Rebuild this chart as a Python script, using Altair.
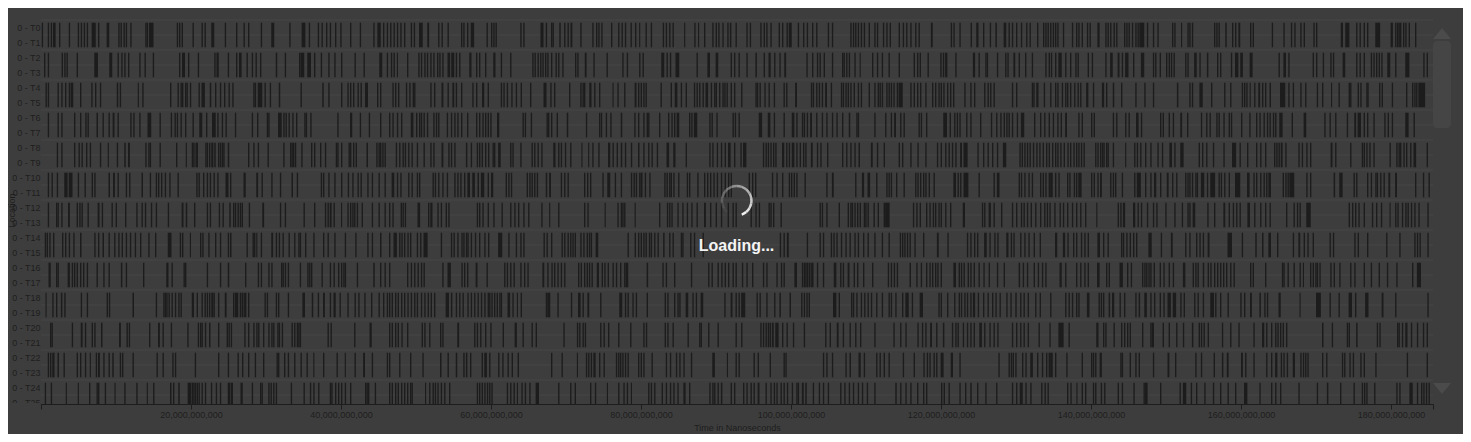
import json
import math
import altair as alt
import pandas as pd

# ---------------- data ----------------
ROW_LABELS = ["0 - T0", "0 - T1", "0 - T2", "0 - T3", "0 - T4", "0 - T5", "0 - T6",
              "0 - T7", "0 - T8", "0 - T9", "0 - T10", "0 - T11", "0 - T12", "0 - T13",
              "0 - T14", "0 - T15", "0 - T16", "0 - T17", "0 - T18", "0 - T19",
              "0 - T20", "0 - T21", "0 - T22", "0 - T23", "0 - T24", "0 - T25"]
X_TICKS = [0, 20e9, 40e9, 60e9, 80e9, 100e9, 120e9, 140e9, 160e9, 180e9]
X_END = 185.6e9          # time (ns) at the right edge of the visible window
ROWS_VISIBLE = 25.6      # rows visible in the scrolled viewport

# event times in units of 1e9 ns: a number = short event, [start, end] = long event
T00_01 = [0.1, 0.9, 1.3, [1.6, 1.95], 2.4, 3.7, 4.9, 5.3, 5.7, 6.1, [6.75, 7.3], 7.6, [8.75, 9.1], 10.3, 10.6, 11.0, 11.3, 11.9, 13.9, 14.1, [14.4, 15.0], 18.1, 18.4, 18.75, 20.2, 21.4, 21.8, [22.7, 23.1], 24.5, 26.0, 27.0, 27.6, 29.3, [30.7, 31.1], 33.1, [34.75, 35.25], 35.7, 36.9, 37.4, 38.0, 38.5, 39.2, 39.9, 41.2, 42.5, 44.3, [44.85, 45.3], 45.6, 46.1,
          46.55, 47.0, 47.45, 47.9, 48.4, 49.3, 49.7, [50.4, 50.9], [51.5, 51.75], 52.95, 53.4, 54.2, 56.0, 56.3, 56.8, [57.3, 57.75], 59.4, 60.0, 60.3, 60.6, 63.9, 64.3, [66.6, 67.0], 67.3, 68.0, 68.2, [69.1, 69.3], 69.75, 70.2, [70.6, 70.85], 71.9, 73.5, 74.0, 74.3, 74.7, 76.0, 76.95, 77.4, 77.85, 78.6, 79.2, [79.75, 79.9], 80.6, 81.3, 82.9, 83.3, 83.75, 84.2, [85.75, 85.9], 87.1, [87.6, 87.75], 88.4, 89.5, 89.95, 90.3, 90.85, 91.5, [91.85, 92.05], 92.6,
          94.05, 94.5, 95.9, 96.35, 96.7, 97.25, 98.35, 98.8, 99.4, [99.7, 100.1], 100.9, 101.6, 102.1, 102.8, 103.35, 104.9, 105.45, 107.9, 108.25, 108.55, 108.9, 109.3, 109.7, 110.35, 111.1, 111.45, 112.25, 112.7, 113.15, 114.35, 114.9, 115.35, 115.9, 116.55, 117.0, [118.65, 118.9], 121.3, 121.65, 122.45, 123.95, [124.7, 125.0], 125.6, 126.5, [127.25, 127.45], [128.35, 128.7], 129.0, 129.45, 130.0, 130.65, 131.35, 131.8, 132.8, 133.6, 133.9, 134.2, 134.55, 134.9, 135.2, 135.5, 136.25, 137.45, 138.0, 138.3, 138.75,
          139.45, 139.8, [140.85, 141.15], 141.9, 142.2, 142.55, 143.0, 143.35, 144.4, 144.7, 145.0, 145.45, 145.9, 146.2, [146.45, 147.1], 147.45, 148.25, 148.85, 150.8, 151.1, [152.0, 152.15], 152.85, 153.1, 153.45, 156.4, 156.7, 157.0, [157.9, 158.1], 158.8, 159.2, [159.65, 159.9], 161.2, 161.55, 164.1, 165.65, 166.65, 167.1, 167.9, 168.35, 169.65, 170.0, [173.3, 173.6], [173.9, 174.45], 175.35, 175.8, 176.35, 176.8, [177.9, 178.55], [179.95, 180.25], 180.55, 180.8, 181.0, 181.2, 181.6, 181.9, 182.35, 183.2]
T02_03 = [0.4, 0.9, 2.75, 3.1, 3.4, 4.75, [7.1, 7.6], [9.1, 9.5], 10.2, 10.7, 11.1, 11.6, 13.1, 13.8, 14.9, 18.4, [18.8, 19.2], 19.6, 20.9, 23.1, [23.4, 23.7], 24.9, 26.0, [26.4, 26.75], 27.4, 28.1, 28.6, 29.2, [31.3, 31.5], 32.5, 34.4, [34.6, 35.1], [35.5, 36.0], 36.4, 37.3, 38.3, 39.1, 40.0, 41.8, 43.0, [45.1, 45.5], 46.1,
          46.65, 47.0, [47.45, 47.6], 48.8, 50.3, 50.65, 51.1, 51.45, 51.9, 52.3, 52.8, 53.1, 53.5, [54.2, 54.55], [54.7, 55.1], 55.3, 55.75, [57.1, 57.4], 58.0, 58.4, 59.2, [60.3, 60.6], 61.3, 62.55, 65.5, 65.8, 66.2, 66.55, 66.85, 67.2, 67.5, 68.0, 68.6, 68.95, 69.5, 71.2, 71.5, [72.5, 72.75], 73.65, 75.4, 77.5, 78.1, 79.75, 80.2, [82.7, 83.1], 83.4, 83.85, [84.6, 85.1], 87.4, [88.85, 89.2], [89.95, 90.3], 91.95, 92.4,
          93.0, 94.05, [95.25, 95.45], 96.35, [97.0, 97.3], 97.75, 98.45, [99.1, 99.35], 102.05, 102.8, 103.45, 103.8, 104.35, 105.45, 106.8, 107.0, 107.35, 107.7, 108.45, [109.15, 109.3], 110.8, 111.45, 112.1, 113.0, 114.35, 116.35, 116.8, 117.15, 118.2, 119.9, 120.25, [120.55, 120.85], 121.9, [124.25, 124.55], 125.0, 125.9, 126.1, 127.45, 128.55, 128.85, [129.65, 129.9], 130.35, 131.2, 132.1, 133.9, 134.35, 134.65, 135.2, [135.65, 136.1], 136.55, 137.2, 137.9, 138.2,
          139.55, 140.1, 141.9, [142.55, 142.9], [143.55, 143.8], 144.1, [144.55, 145.0], 145.6, [146.65, 147.1], 148.25, 148.55, 149.15, 150.0, 150.35, 150.65, 151.0, 152.55, 152.85, [153.75, 154.1], 154.45, [155.45, 155.65], 156.8, 157.2, 158.65, [159.2, 159.65], [159.9, 160.25], [161.15, 161.55], 165.0, [165.65, 166.0], 166.3, 169.55, 170.0, 170.9, 171.9, 172.25, [173.55, 173.9], 175.35, 175.8, 176.35, 177.3, 177.65, 178.0, 178.35, 178.7, [179.5, 179.9], 180.55, [181.9, 182.45], 184.3, 184.75]
T04_05 = [0.6, 0.9, 2.2, 2.7, 3.2, 3.7, [3.95, 4.3], 5.2, 6.7, 7.2, 7.85, [10.1, 10.3], 10.5, [12.9, 13.05], 13.5, 17.2, 18.2, 18.6, 18.8, 19.2, 19.4, 19.85, 21.0, [21.4, 21.85], [22.5, 22.7], 23.2, 23.85, 24.4, 25.0, 25.5, 28.3, 28.5, [28.9, 29.5], 29.8, 30.5, [31.7, 31.9], 34.6, [37.5, 37.7], 38.3, 40.0, 40.85, 41.2, 41.6, 42.2, 42.6, [43.2, 43.6], 44.8, 45.2,
          46.85, 47.2, 47.6, 48.65, 49.1, 49.55, 49.75, 51.9, 52.4, [53.4, 53.65], 54.2, [54.85, 55.1], 55.3, 56.0, 57.5, 58.0, [58.8, 59.1], 59.55, 61.3, 61.65, 62.1, 62.7, 63.3, 63.95, 65.2, [67.0, 67.4], 67.9, 68.4, 70.4, 71.9, 72.2, 72.4, [73.1, 73.4], 73.75, 74.4, [76.2, 76.35], 76.85, 77.75, [79.15, 79.4], 79.6, 79.95, 80.3, 80.6, 82.6, 83.95, [84.5, 84.85], 85.3, 85.95, 87.05, 87.4, 87.75, 88.2, [88.6, 88.95], 89.3, 89.75, 89.95, 90.4, 90.85, 91.1, 91.4, 91.95, 92.4,
          93.35, 95.25, 95.45, 95.8, 96.45, 97.0, 97.7, 99.0, 99.35, [100.55, 100.8], 102.65, 102.9, 103.35, 103.7, 104.1, [104.55, 104.8], 105.3, 106.65, 106.9, 107.25, 107.55, 107.9, 108.35, 108.9, 109.3, 110.35, 111.1, 111.55, 111.8, 112.1, 112.7, 113.0, 113.3, 113.65, 114.1, [114.35, 114.9], 115.9, 116.35, 116.8, 117.2, 117.9, 118.8, 119.2, 119.65, 119.95, 120.3, 120.8, 121.2, 121.6, 123.1, 123.9, 124.4, 125.75, 126.2, 126.55, 127.0, 129.45, 130.0, 132.1, 132.3, [132.7, 133.0], 133.7, 134.55, 135.2, 135.5, 136.1, 136.55, 136.8, 137.2, 137.75, 138.2, 138.55,
          [139.35, 139.65], 140.25, [141.45, 141.75], 142.0, [142.9, 143.1], 144.0, 145.9, 147.1, 148.25, [151.45, 151.65], 153.1, 153.45, [154.45, 154.9], 156.0, 157.75, 158.55, 160.1, 160.4, 160.7, [161.15, 161.3], 161.75, [162.3, 162.55], 162.8, 163.2, [163.8, 164.0], [165.2, 165.9], 166.3, 166.9, 167.9, 168.55, 170.1, 170.8, [172.0, 172.15], 173.0, 174.35, 174.55, 175.55, 175.9, 176.7, 176.85, 178.4, 178.75, 180.1, 182.0, 182.8, 183.1, 183.35, [183.65, 184.55]]
T06_07 = [0.9, 2.2, 2.7, 4.4, 5.2, 5.9, 6.2, [7.4, 7.6], 8.2, 9.0, [9.55, 9.8], 10.2, 11.9, 12.3, 13.1, [14.2, 14.7], 15.8, 17.3, 17.8, 18.1, 18.6, 19.2, 20.2, [21.1, 21.5], 22.0, [22.8, 23.3], 23.5, 24.1, 24.6, 25.85, 28.1, 28.8, 30.1, 30.3, [31.6, 32.1], 32.3, 32.6, 33.0, 33.5, 34.0, 35.1, 35.3, 35.9, 39.5, [41.2, 41.5], 42.5, 43.7, 45.2,
          46.4, 46.85, 47.45, 48.0, [49.3, 49.65], 50.0, 50.4, 50.65, 51.0, 51.45, 52.3, 52.65, 52.95, 54.1, 54.65, 55.1, 55.5, 56.0, 56.8, 58.0, 58.4, 58.85, 59.2, 59.55, 59.9, [60.8, 61.1], 64.2, 64.5, 65.3, 67.4, 67.6, 68.0, 68.75, [70.1, 70.3], 72.65, 74.4, 74.65, 75.3, 75.9, [77.3, 77.5], 79.1, 79.6, 80.3, 80.75, 80.95, 82.4, 83.6, 84.05, 84.4, [84.75, 85.1], 86.4, 86.7, [87.05, 87.5], 89.1, 89.4, 90.05, 92.2, 92.5,
          93.0, [95.7, 96.15], [96.9, 97.25], 97.7, 99.0, [100.1, 100.45], 100.7, 101.45, 101.7, 102.1, [102.55, 102.8], 103.35, 104.1, 104.7, 105.45, 106.05, 106.8, [107.7, 107.9], 108.7, 108.9, 111.1, 112.55, 113.3, [113.75, 114.0], 114.55, 115.0, 117.0, 117.3, 118.0, [120.3, 120.8], 121.15, 121.75, 122.1, 122.45, 123.35, 123.9, 125.2, 126.65, 127.35, 127.9, 128.35, 128.7, 129.0, 129.45, 130.1, [130.65, 131.1], 132.4, 133.2, 133.75, 134.35, 134.9, 135.5, 135.95, [136.55, 136.8], 138.3, 138.75,
          140.0, 140.35, 142.9, 143.35, 144.55, 145.0, [146.0, 146.35], 146.65, 149.2, 149.55, 150.35, 150.9, [151.9, 152.15], 152.8, 154.65, 155.35, 155.8, 156.7, 157.0, 157.65, 158.35, 158.65, 160.0, 161.1, 162.0, 162.45, 163.0, 163.45, 163.8, 164.25, 164.55, [165.1, 165.55], 166.75, [168.35, 168.7], 171.1, 171.8, 172.55, 174.1, [175.1, 175.35], [175.55, 176.0], 176.35, 176.8, 177.65, 179.1, 179.55, 180.1, [181.9, 182.35], 183.0]
T08_09 = [2.1, 2.7, 4.4, 5.0, 5.4, 6.0, 6.5, 7.85, [8.9, 9.05], 10.1, [11.1, 11.3], [11.6, 11.85], 13.9, 14.3, 14.5, 15.8, 18.0, [19.3, 19.45], 20.1, 20.3, 20.6, 20.75, 21.9, 22.1, 22.4, 22.7, 22.8, [23.1, 23.3], 23.6, 23.85, 24.1, 24.3, [24.9, 25.1], 27.6, 28.3, 28.9, 30.2, 32.3, 33.2, 33.4, 33.6, 33.85, 34.7, 36.0, 36.4, 37.2, 37.85, 39.3, 39.5, 40.0, 41.0, 41.2, 41.6, 41.95, [43.4, 43.6], 44.7, 45.0, 45.2, 45.5, 45.8,
          47.3, 47.75, 48.2, 48.5, 48.95, 49.4, 50.1, 51.0, 51.9, 52.3, [53.4, 53.65], 54.3, 54.65, 55.1, [56.65, 56.85], 57.3, 58.1, 58.4, 58.75, 59.2, 59.6, 60.2, 60.4, [60.95, 61.3], 62.55, 62.85, 63.9, 65.4, 65.75, 66.2, 66.7, [68.3, 68.6], 68.95, 69.3, 69.85, 70.55, [72.05, 72.2], [72.95, 73.1], 73.5, 74.3, [75.6, 75.9], 76.2, 76.75, [77.3, 77.5], 77.85, 78.65, [79.6, 79.8], 80.3, 80.95, 81.4, 82.1, [83.4, 83.75], [84.3, 84.6], 85.95, 89.1, 89.5, 90.1, 90.65, 91.15, [91.6, 91.95], 92.4,
          93.25, [93.6, 94.05], 96.25, 96.6, 96.9, 97.25, 97.6, 97.9, [98.8, 99.1], 99.35, 99.7, [100.1, 100.45], 100.7, 101.15, 101.6, 101.9, [102.65, 102.9], 103.45, 103.9, 104.8, 106.8, 107.35, 107.9, 108.45, [109.0, 109.2], [110.65, 110.9], 111.45, 112.35, 114.35, 114.8, 115.9, 116.85, 117.9, 119.45, 119.95, 120.55, 121.0, 121.45, 121.9, [122.55, 122.8], [123.0, 123.55], 124.85, 125.6, 126.2, 126.8, 127.45, [128.25, 128.7], 130.45, 130.75, 131.1, 131.45, 131.8, 132.25, 132.7, 133.1, 133.55, 134.0, 134.35, 134.8, 135.2, 135.5, 135.9, 136.35, 136.85, 137.2, 137.65, 138.0, 138.3, 138.65, 139.0,
          140.55, 140.85, 141.2, 141.45, 141.65, 142.0, 142.2, 142.9, [144.55, 144.7], 145.75, 146.1, 146.55, 147.2, 147.9, 148.85, 149.45, [150.45, 150.8], 151.1, [151.9, 152.35], 154.35, 154.8, 155.35, 156.25, 157.65, [158.8, 159.35], 159.8, 160.8, 162.0, 162.55, 163.2, 164.4, 164.7, 165.0, [165.3, 165.55], 165.9, 167.65, 168.1, 168.7, 169.2, [171.95, 172.2], 172.55, 174.55, 176.1, 176.35, 176.7, 177.1, 177.65, 179.8, 180.7, 181.0, 181.2, 181.65, 182.0, 182.55, [183.0, 183.35], 184.75]
T10_11 = [0.9, 1.4, 2.1, [3.1, 3.55], [3.7, 4.2], 4.9, 5.8, 6.75, 7.1, [9.0, 9.2], [9.6, 9.85], 10.2, 11.3, 11.75, [13.4, 13.6], 14.5, 15.3, 15.6, 16.0, 16.5, 17.1, 18.2, 20.7, 21.0, 21.6, 22.1, 22.5, 23.0, 23.5, [24.6, 25.0], 25.2, [27.0, 27.3], [28.7, 28.95], 29.4, 30.7, 31.85, [33.4, 33.6], 34.1, 37.3, 37.6, 38.3, 39.1, 40.0, 40.9, 41.5, 42.2, 42.6, 43.5, 44.1, 45.0, 45.8,
          [46.75, 47.1], 47.45, 47.9, 48.95, 49.4, 50.1, 50.4, 52.2, 52.5, 52.95, 53.5, 54.1, 55.1, 55.5, 55.9, 56.4, [56.85, 57.2], [57.5, 57.85], [58.2, 58.4], [58.65, 59.1], 59.55, [60.0, 60.3], 61.95, 62.3, 62.65, 64.75, 65.1, 65.4, 65.75, 66.1, [67.3, 67.5], [67.75, 68.0], 69.3, 69.75, 70.2, 72.4, 72.8, 73.2, 74.85, [75.5, 75.9], 76.5, 77.3, 78.65, 79.0, 79.3, 79.75, [79.95, 80.2], 80.5, 81.1, 83.1, 83.4, 83.75, 83.95, 84.3, 84.95, 86.1, 86.4, 87.5, 88.4, 88.8, 89.2, 89.65, 90.1, 90.65, 91.15, 91.6, 91.95,
          94.35, 94.8, 95.2, 97.45, 98.05, 98.8, 99.7, 100.0, 100.35, 100.7, 101.8, 104.7, [105.45, 105.7], 108.55, [109.45, 109.75], [110.2, 110.55], 111.35, 112.7, 113.0, 113.3, 114.0, 115.0, 116.55, 116.85, 117.2, 117.6, 117.9, 118.35, 119.0, [121.65, 122.0], 122.2, 122.55, [123.0, 123.65], 125.0, 127.0, [127.45, 127.8], 130.35, 130.65, 131.1, 131.65, 132.1, 133.2, 133.55, 133.9, 134.35, [134.55, 134.9], 135.2, 135.65, 136.8, 137.1, 137.7, 138.0, [138.3, 138.75],
          140.0, 140.35, 140.85, [141.2, 141.45], 142.55, 142.9, 143.2, 144.1, 145.75, [146.1, 146.65], 147.2, 147.9, [148.4, 148.7], 149.2, [150.1, 150.35], 150.8, 151.35, 152.55, 152.85, 153.1, 153.45, 153.9, 154.1, [154.65, 155.1], 155.45, [155.9, 156.55], 157.0, 157.3, 157.75, 158.35, [159.2, 159.9], [160.8, 161.15], 161.65, 162.0, 162.55, 163.0, 163.35, [163.65, 164.0], 165.55, 165.9, 166.2, [166.45, 167.1], 168.7, 169.2, [172.35, 172.55], [173.1, 173.55], 175.0, 175.35, 176.8, 177.3, 177.9, 178.1, 178.55, 179.0, [179.65, 179.9], [180.55, 180.8], 183.2, 184.25, 185.0]
T12_13 = [0.9, 2.0, 2.2, 2.7, [3.6, 3.85], 4.75, 5.1, 5.4, 6.2, [7.55, 7.8], 8.1, 9.4, 9.95, 11.2, 12.7, 13.4, 13.85, 14.65, 15.3, 16.9, [18.75, 19.0], [19.3, 19.5], 20.4, 22.1, 22.5, 23.7, 24.2, [25.1, 25.3], 25.6, 25.85, 26.2, 26.5, 26.75, 27.7, [29.5, 29.75], 31.85, 32.5, 35.0, 36.4, 37.85, 38.2, [38.5, 38.75], 39.0, [40.0, 40.15], 40.85, 41.2, 41.5, 41.75, 42.1, 42.75, 44.1, 45.0, 45.8,
          46.4, 46.85, 47.95, 48.2, 48.5, [50.2, 50.55], 51.6, [51.9, 52.2], 52.85, 53.3, 53.95, 54.3, 58.1, 58.4, 58.85, 59.55, 60.3, 61.4, 62.55, 63.1, 63.6, 64.3, 64.95, 66.7, [67.75, 67.9], 68.95, 72.4, 72.85, [75.15, 75.3], 76.85, 77.3, 77.5, 77.75, [79.15, 79.3], 82.4, 83.45, 83.75, 84.05, 84.85, 85.5, 86.1, 86.7, 87.4, [88.4, 88.65], 89.2, 89.95, 90.65, 91.55, 92.2, 92.6,
          94.6, 95.25, 95.7, 97.0, 97.25, 97.6, 98.6, 103.8, 104.1, 104.7, 106.35, 107.55, 107.9, 108.1, 108.45, 108.8, 109.15, 109.7, 109.9, 110.2, 111.0, 111.55, 112.35, [112.55, 113.15], 116.25, 116.7, 117.15, 118.0, 118.45, 118.9, 119.2, 119.65, 119.95, 120.55, 121.2, [122.9, 123.2], 125.45, 125.75, [126.35, 126.65], 127.0, 128.0, 129.45, 130.0, 130.65, 131.0, 131.45, 131.95, 132.55, 133.2, 133.75, 134.1, 134.45, 135.1, 135.8, 136.25, 136.8, 137.45, 138.0, 138.55,
          139.2, [140.7, 140.85], 143.55, 143.9, [144.25, 144.55], [145.6, 145.9], 146.2, 146.65, 147.45, 148.25, 148.7, 149.9, 151.1, 152.1, 152.85, 153.1, [153.55, 153.9], 155.5, 156.4, [157.65, 157.9], 158.35, 158.9, 159.35, 159.8, [160.85, 161.2], 161.75, 162.55, 163.2, 163.8, 166.0, 167.0, 167.45, 167.8, [168.7, 169.3], 174.35, 174.8, 175.2, 175.65, 176.35, 177.45, 178.0, 178.65, [179.8, 179.95], 180.55, 180.85, 181.45, 181.9, 182.2, 182.65, 183.1, 183.65, 184.85]
T14_15 = [0.5, 0.75, 1.1, 1.6, 2.8, 3.2, 3.7, 4.3, [5.2, 5.4], 7.1, 7.6, [8.2, 8.4], 9.0, 9.75, 10.3, 10.75, 11.3, 11.85, 12.5, 13.2, 14.3, 15.2, [16.9, 17.4], 18.5, 18.8, [19.85, 20.0], 21.2, 21.5, 22.3, 23.2, 23.85, 24.9, [25.2, 25.4], 27.4, 28.2, 28.4, [28.7, 28.85], 29.3, [30.7, 30.95], 31.3, 31.7, 32.2, 33.0, 33.75, 34.3, 34.5, 35.2, 36.3, 37.6, 38.2, 39.1, 40.5, 41.9, 43.5, 44.1, [45.2, 45.4],
          46.4, [47.0, 47.45], 47.75, 48.05, 48.4, 48.85, 49.2, 50.1, 50.55, [51.0, 51.55], 53.3, 54.65, 55.0, 55.5, 56.05, 56.3, 56.65, 56.85, 57.3, 57.85, 58.4, 59.1, 59.6, [60.95, 61.5], 62.3, 63.3, 63.9, 64.3, 67.0, 67.4, 68.0, 69.4, 69.75, 70.2, 70.55, 70.85, 71.15, 71.9, 72.3, 72.75, 73.05, 73.3, [73.95, 74.3], 78.2, 79.15, 79.6, 79.95, 80.3, 80.6, 81.05, 81.3, 81.75, 82.2, [82.95, 83.15], 83.75, 84.2, 85.3, 85.5, 86.55, 87.05, 88.2,
          98.5, 99.0, [99.45, 99.7], 102.1, 103.8, 104.25, 105.3, 105.65, 106.05, 106.65, 107.25, 107.8, 108.45, 108.9, 109.6, 110.2, 111.1, 112.1, 113.0, 114.5, 114.8, 115.1, 115.45, 115.8, 116.45, 117.6, [119.45, 119.7], 120.85, 123.45, 123.9, 124.4, 124.8, [125.75, 126.1], 126.45, 127.1, 127.5, [128.7, 129.0], 129.3, 129.65, 130.55, 131.1, 131.65, 132.35, 133.15, [135.2, 135.5], [136.25, 136.55], 136.85, 137.6, 138.0, 138.65,
          139.1, 139.55, [140.85, 141.2], 141.6, 142.2, 144.0, 144.25, 144.7, 145.15, 145.6, 146.0, [147.65, 148.1], 149.3, [150.65, 150.9], 152.55, 153.1, 154.0, 154.45, 154.9, [155.55, 155.8], [158.2, 158.8], 160.1, [161.9, 162.1], [162.8, 163.0], [163.65, 164.0], 164.8, 166.9, [167.65, 167.9], 168.35, 168.85, 169.55, 171.8, 172.25, 175.1, 175.55, 176.8, 179.35, 181.1, 183.1, 183.45, 183.8, 184.85]
T16_17 = [[1.0, 1.3], 2.0, 2.2, [3.55, 3.85], 4.1, 4.4, 4.75, 5.2, 5.6, 6.1, 7.4, 8.3, 9.0, [10.65, 10.85], 11.3, 13.6, [16.7, 17.0], 17.4, 19.0, 19.2, 22.1, 23.85, [24.9, 25.1], 27.2, 28.9, 29.3, 30.3, 30.7, 32.0, 32.2, 32.5, 32.9, 34.5, 35.5, 35.75, 36.0, 37.4, 38.5, 39.0, 39.6, 40.0, 40.3, 40.5, 42.1, [44.3, 44.5], 45.2, 45.8,
          46.4, 48.8, 49.3, 49.75, 50.2, 50.65, 51.0, 53.5, [54.2, 54.65], 56.05, 56.4, 56.8, [57.95, 58.2], 59.4, 61.75, 62.1, 62.55, 63.0, 63.9, 64.4, 64.85, [66.85, 67.1], 67.5, 68.05, 68.4, 68.85, 69.3, 69.75, 71.6, 71.95, 72.4, 72.75, 73.05, 73.4, [74.1, 74.4], 74.75, 75.1, 75.55, 76.2, 76.65, 77.2, 77.75, [77.95, 78.3], [80.75, 80.95], 82.85, 83.3, 84.4, 86.65, 88.95, 89.4, 90.2, 90.7, 91.15, 91.6, 92.2, 92.6,
          93.45, 94.05, 94.8, 96.25, 96.7, 98.05, 98.65, 99.0, [100.45, 100.8], 101.45, 101.7, 101.9, 102.1, 102.35, 102.6, [102.8, 103.0], 103.45, 104.25, [105.7, 106.05], 106.55, 106.9, [107.55, 107.8], 108.35, 108.8, 109.6, 110.8, 112.9, 113.3, 113.7, 114.1, [115.8, 116.0], 116.7, 117.3, 118.0, 118.45, 118.8, 119.2, 119.5, 119.95, [121.65, 122.0], 122.35, 122.65, 123.0, 123.55, 123.9, 124.35, 125.0, 125.65, 126.35, 127.45, 128.35, [130.35, 130.55], 130.9, 131.45, 132.35, 132.9, 133.45, 133.9, [135.8, 136.1], 136.55, 138.0, 138.55,
          139.1, 139.55, [140.8, 141.15], 142.0, 142.35, [143.8, 144.25], 144.8, 145.3, 146.8, 147.1, 147.35, 147.65, 147.9, 148.35, 149.15, 149.65, 150.35, 150.9, 152.25, 152.4, 153.55, 153.9, 154.2, [154.9, 155.1], 155.55, 155.9, 156.4, 156.8, 157.2, 157.6, 158.0, 158.55, 159.0, 161.2, 161.55, 163.2, 165.45, 165.65, 166.2, 167.0, 167.8, [168.25, 168.4], 169.2, 169.55, 169.9, 170.1, 170.45, 171.9, 172.35, 173.1, 174.55, 175.1, 176.35, 177.3, 178.35, 179.45, 180.7, 182.8, [183.45, 184.0]]
T18_19 = [[0.6, 0.75], 1.5, 2.0, [2.65, 2.85], 3.1, 5.3, 6.1, 8.75, 9.05, [12.2, 12.4], 15.3, 16.3, 16.5, 16.7, 17.0, 17.4, 17.85, 18.3, 18.6, [20.1, 20.4], 20.75, 21.4, 21.8, 22.1, 22.4, 22.7, 22.8, 23.0, 23.6, [24.5, 24.75], 25.6, [25.85, 26.3], 26.5, 26.75, 27.0, 27.2, 27.6, 29.8, 30.1, 31.3, 31.6, 32.9, [34.85, 35.2], [36.1, 36.3], 36.9, [37.6, 37.85], 38.5, [39.0, 39.3], 39.8, 40.85, 41.8, 42.3, 43.1, 44.0, 45.0, 45.6, 46.1,
          46.4, 46.75, 47.2, 47.55, 48.0, 48.4, 48.85, 49.3, 49.75, 50.1, 50.65, 51.1, 51.55, 51.95, 52.4, [53.95, 54.4], [54.65, 54.85], 55.3, 55.75, 56.2, 56.85, 57.3, 57.75, 58.2, 58.65, 59.1, 59.55, 59.75, 60.05, 60.4, 60.75, 61.1, 61.3, [62.2, 62.55], 62.85, [63.45, 63.6], 63.95, 67.3, [67.5, 67.9], 68.85, 70.65, [71.6, 71.95], 72.2, [72.85, 73.1], 74.55, [77.1, 77.5], 77.85, 78.2, 78.85, 79.3, 80.75, 83.15, 83.5, 84.4, 84.85, 85.1, [85.95, 86.3], 86.85, 87.3, [87.95, 88.3], 91.1, [91.95, 92.2], 92.6,
          93.0, [93.35, 93.9], 95.4, 95.8, 96.7, 97.75, [98.45, 98.65], [99.8, 100.0], 101.35, 101.7, 102.05, 102.35, [105.6, 106.05], 106.35, 108.0, 108.25, 108.7, 109.3, 109.75, 110.2, 110.65, 111.35, 112.1, 113.0, 113.3, 113.9, 114.8, [115.25, 115.7], 116.1, [117.15, 117.6], 119.65, 119.95, 120.8, 121.75, 122.35, 122.65, 123.1, 123.45, 123.9, [124.25, 124.55], 124.9, 125.6, 126.2, 126.8, 127.25, 127.8, 128.7, 129.25, [129.9, 130.1], 130.55, 131.0, 131.55, 132.55, 133.15, 134.55, 136.55, 137.0, 137.45, 138.0, 138.3,
          [139.45, 139.8], 141.0, 141.3, 141.6, [142.35, 142.55], [142.8, 143.1], 143.8, 144.4, 145.9, [146.35, 146.55], [147.1, 147.45], 147.9, 148.4, 149.15, 149.65, [150.2, 150.65], [150.9, 151.35], 151.9, 152.35, 153.75, 154.2, 154.9, [155.9, 156.4], 156.55, 157.2, 158.2, 159.9, 160.4, [161.2, 161.45], [162.45, 162.65], 163.1, 163.45, [165.0, 165.3], [167.8, 167.95], [170.0, 170.65], 171.8, 173.0, [174.35, 174.8], 175.2, [176.55, 177.0], [178.75, 179.0], 180.55, 184.85]
T20_21 = [1.2, 1.4, 4.1, [5.3, 5.55], 5.85, 6.75, 7.1, [8.0, 8.2], [10.4, 10.65], 11.4, 11.7, 14.4, [15.6, 15.85], 16.2, 17.3, 19.5, 20.9, 21.2, 21.4, 21.85, [22.4, 22.6], 23.6, 24.75, 25.0, 25.3, 27.1, 27.6, 28.3, 28.7, 28.95, 29.6, 30.3, 30.7, 30.95, 31.5, 31.7, 32.1, 33.4, 33.75, 34.1, 34.3, 34.5, 38.2, 38.6, 41.75, [43.8, 44.1],
          46.4, 46.75, 47.2, 47.55, 48.05, 48.8, 50.75, 51.1, 51.75, 53.2, 53.5, [55.5, 55.75], 57.75, 58.1, 58.55, 59.2, 59.9, 61.55, [63.15, 63.45], 64.2, 65.4, 65.95, 69.65, 71.45, 71.75, 72.2, 72.5, 74.55, 75.0, 75.6, 76.95, 78.55, 80.3, 80.65, 83.15, 83.5, 84.2, 86.2, 87.75, 87.95, 88.95, 90.2, 92.6,
          93.35, 95.9, 96.25, 96.6, 96.9, 97.15, [97.45, 97.7], [97.9, 98.35], 98.8, 99.4, 100.25, 101.7, 104.55, 105.15, [106.1, 106.35], 106.9, 107.8, 108.55, 109.2, 111.1, 113.65, 114.55, 115.25, 116.85, 117.45, 117.9, [118.55, 118.8], 119.35, [120.25, 120.45], 121.45, 121.9, 122.2, 122.9, 123.45, 123.9, 124.35, [125.1, 125.45], 125.75, 126.45, 127.0, 127.5, 129.45, 130.0, 130.55, 131.0, 131.55, 133.0, 134.45, [135.65, 136.35], 137.0,
          [140.7, 141.0], 141.6, 141.9, 143.0, 144.0, 144.4, 144.8, 145.15, 146.8, 147.9, [148.1, 148.4], 149.55, 150.35, 151.35, 152.25, [153.45, 153.65], 154.35, 154.65, 155.0, 155.55, 157.45, 158.55, 159.65, 161.65, [162.8, 163.1], 163.35, 164.0, 164.55, 164.85, 165.2, 165.55, 166.0, [170.8, 171.0], 172.1, 174.1, 174.35, [175.35, 175.55], 178.1, 178.45, 180.8, 181.0, 181.45, [181.9, 182.2], 182.65, 183.45, 184.25, 184.75]
T22_23 = [0.9, 1.2, [1.5, 1.8], [2.2, 2.4], 3.0, 4.75, 5.2, 5.85, [6.5, 6.65], 7.3, [7.6, 7.85], 8.3, 9.0, [9.5, 9.7], 10.5, 10.8, 12.2, 15.4, 16.2, 17.5, 17.85, 20.5, 23.6, 24.9, 26.2, 26.8, 27.6, 28.5, 29.6, 31.4, 31.6, 32.4, 32.9, 33.75, 34.6, 35.4, [36.3, 36.45], 37.6, 39.4, [40.5, 40.65], 41.8, [42.95, 43.2], 44.1, 46.1,
          46.4, 47.75, 49.2, 50.85, [53.2, 53.4], 54.2, [55.3, 55.5], 56.3, [56.65, 56.85], 57.2, 58.75, [59.1, 59.45], 59.75, 60.95, 61.5, 62.2, 62.75, 63.55, 68.0, 69.4, [71.45, 71.6], 72.65, 72.95, 73.3, [73.65, 73.95], 74.4, 75.0, 76.65, 76.95, 77.2, 77.5, 77.85, 78.2, 79.6, 79.95, 80.3, 81.4, 83.3, 83.85, 84.65, 85.1, 85.65, 86.65, [89.5, 89.85], [91.45, 91.6], 92.6,
          93.0, 95.0, 95.55, 97.15, 99.0, 99.25, 104.25, 104.7, 105.45, 107.25, [107.8, 108.0], [109.0, 109.3], 109.7, 111.35, 111.8, 112.35, 113.0, 114.9, 116.35, 117.65, 118.1, 118.45, 119.0, 119.35, [119.95, 120.35], [121.3, 121.6], 122.45, 127.65, 129.0, 129.3, 129.55, 129.9, 130.8, 131.25, [131.9, 132.25], 132.8, 133.45, 134.0, 134.35, [134.55, 134.9], 135.2, 136.7, 138.75,
          140.0, 140.25, 140.55, [141.15, 141.45], 143.9, 144.1, 145.15, 145.9, 146.35, 148.25, [150.2, 150.45], 151.2, 153.9, 154.65, 156.35, [157.45, 157.65], [158.1, 158.35], [160.0, 160.25], 160.55, 161.65, 163.35, 164.0, [164.55, 164.85], 165.3, 165.65, 166.1, [166.9, 167.2], 167.9, 168.25, 168.55, 168.85, 170.8, 171.35, 173.45, 173.75, 174.45, 174.9, 175.9, 176.35, 177.9, 182.1, 184.75]
T24_25 = [0.5, 1.3, [3.3, 3.45], [4.9, 5.05], 6.4, 7.4, 7.6, 8.5, [9.8, 9.95], 11.1, 12.7, [14.1, 14.25], 14.95, [17.2, 17.4], 17.6, [18.3, 18.5], 19.55, 19.7, 19.85, 20.1, 20.3, 20.5, 20.75, 21.0, 21.4, 21.85, 22.65, 23.3, 23.85, 24.9, 25.05, [25.3, 25.6], [26.6, 26.9], 28.1, 29.2, 29.4, 30.3, 30.6, 30.95, 31.3, 33.3, 35.0, 35.85, 36.3, 36.95, 38.5, 38.7, 39.2, 39.6, 40.0, 40.5, 41.2, 43.2, 43.4, 43.6, 44.5,
          46.4, 46.75, 47.2, 47.55, 48.0, 48.4, 48.8, 49.2, 49.4, [51.2, 51.35], 51.75, 52.2, 52.5, 52.85, 53.3, 53.75, 54.4, 58.1, 58.4, 58.75, 59.1, 59.45, 59.75, 60.05, 62.1, 62.55, 63.0, [63.45, 63.6], 64.05, 64.5, 65.1, [65.95, 66.4], 68.95, 70.55, 71.15, 73.2, 73.85, [75.45, 75.6], 76.95, 77.65, 78.1, [78.65, 78.8], 80.95, 81.3, 81.75, 82.75, 83.3, 83.85, 84.3, 84.85, [85.65, 85.95], 86.4, 89.1, 89.5, 89.75, 90.2, [90.65, 90.85], 91.95, 92.4,
          93.6, 94.05, 94.6, 95.0, [95.55, 95.8], 96.6, 97.25, 97.7, 98.05, 98.6, 99.0, 99.45, 100.1, 100.7, 100.9, [101.45, 101.7], [101.9, 102.1], 102.9, 103.7, 104.25, 104.9, 106.55, 107.1, 107.7, 108.25, 108.9, 109.45, 110.1, 111.1, [113.9, 114.1], 114.55, 115.25, 115.9, 116.8, 117.6, 118.0, 120.0, 120.35, 121.0, 122.45, 123.2, [123.9, 124.1], 124.8, 125.9, 127.35, 129.45, 130.0, [130.5, 130.9], 131.25, 131.9, 133.35, 133.8, 134.2, 136.8, 137.25, [138.05, 138.2], 138.75,
          139.2, 140.25, 140.55, 141.3, 141.75, 143.55, 144.1, 145.65, 147.0, [147.2, 147.55], 149.2, 151.8, [152.25, 152.7], 153.3, 154.0, 155.1, 156.25, 157.2, 158.2, 159.2, [160.4, 160.85], 162.45, 164.0, 164.55, 165.2, 167.65, 170.1, [171.45, 171.65], 173.2, 175.0, 176.1, 176.4, 176.7, 177.75, 180.7, 181.1, [182.45, 182.9], 183.45, 184.0, 184.3, 184.65, 185.0]

BLOCKS = [T00_01, T02_03, T04_05, T06_07, T08_09, T10_11, T12_13,
          T14_15, T16_17, T18_19, T20_21, T22_23, T24_25]
LOADING_TEXT = ["Loading..."]

# ---------------- styling ----------------
FONT = "Liberation Sans"
BG = "#3d3d3d"
INK = "#1d1d1d"
BAR = "#1c1c1c"
GRID = "#474747"
THIN = 0.18          # width (in 1e9 ns) of an instantaneous event
BAND_PAD = 0.18      # inset of each bar band inside its two rows

W, H = 1392, 384

rows = []
for k, evs in enumerate(BLOCKS):
    for ev in evs:
        if isinstance(ev, list):
            s, e = ev
        else:
            s, e = ev, ev + THIN
        rows.append({"start": s * 1e9, "end": e * 1e9,
                     "y0": 2 * k + BAND_PAD, "y1": 2 * k + 2 - BAND_PAD})
bars_df = pd.DataFrame(rows)
grid_df = pd.DataFrame({"y0": list(range(len(ROW_LABELS)))})

x_scale = alt.Scale(domain=[0, X_END], nice=False, zero=False)
y_scale = alt.Scale(domain=[0, ROWS_VISIBLE], reverse=True, nice=False, zero=False)

label_js = json.dumps(ROW_LABELS)

y_axis = alt.Axis(title="Location",
                  values=[i + 0.5 for i in range(len(ROW_LABELS))],
                  labelExpr=f"{label_js}[floor(datum.value)]",
                  ticks=False, tickSize=0, domain=False, grid=False,
                  labelPadding=1, labelFont=FONT, labelFontSize=9,
                  labelColor=INK, labelFlush=False, labelOverlap=False,
                  titleFont=FONT, titleFontSize=9, titleFontWeight="normal",
                  titleColor=INK, titleAngle=270, titleX=-30, titleY=190,
                  titleAlign="center", titleBaseline="middle", zindex=0)

grid = alt.Chart(grid_df).mark_rule(color=GRID, strokeWidth=1).encode(
    y=alt.Y("y0:Q", scale=y_scale, axis=y_axis, title="Location")
)

bars = alt.Chart(bars_df).mark_rect(color=BAR, clip=True, strokeWidth=0).encode(
    x=alt.X("start:Q", scale=x_scale,
            axis=alt.Axis(title="Time in Nanoseconds", values=X_TICKS + [X_END],
                          format=",d",
                          labelExpr="datum.value > 0 && datum.value < 1.82e11 ? datum.label : ''",
                          tickSize=5, tickColor=INK, domainColor=INK, labelColor=INK,
                          labelFont=FONT, labelFontSize=9, labelPadding=1,
                          labelFlush=False, labelOverlap=False, grid=False,
                          titleFont=FONT, titleFontSize=9, titleFontWeight="normal",
                          titleColor=INK, titleY=26, titleBaseline="alphabetic",
                          zindex=0)),
    x2="end:Q",
    y=alt.Y("y0:Q", scale=y_scale, axis=y_axis, title="Location"),
    y2="y1:Q",
)

one = pd.DataFrame({"k": [0]})

# hides the lower half of the partly scrolled-out last row label
cover = alt.Chart(one).mark_rect(color=BG).encode(
    x=alt.value(-41), x2=alt.value(-0.5), y=alt.value(383), y2=alt.value(395))

# scrollbar
thumb = alt.Chart(one).mark_rect(color="#454545", cornerRadius=4).encode(
    x=alt.value(1392), x2=alt.value(1410), y=alt.value(21), y2=alt.value(108))
arrow_up = alt.Chart(one).mark_point(shape="M-1,0.6L0,-0.6L1,0.6Z", size=324,
                                     filled=True, color="#4b4b4b", opacity=1).encode(
    x=alt.value(1401), y=alt.value(13.5))
arrow_dn = alt.Chart(one).mark_point(shape="M-1,-0.6L0,0.6L1,-0.6Z", size=324,
                                     filled=True, color="#4b4b4b", opacity=1).encode(
    x=alt.value(1401), y=alt.value(368.5))

# loading spinner: fading arc segments
segs = []
n_seg = 15
for i in range(n_seg):
    a0 = (220 + 20 * i) % 360
    segs.append({"a": math.radians(a0), "b": math.radians(a0 + 20),
                 "o": 0.05 + 0.95 * i / (n_seg - 1)})
spin_df = pd.DataFrame(segs)
spinner = alt.Chart(spin_df).mark_arc(innerRadius=13.5, outerRadius=16,
                                      color="#f0f0f0").encode(
    theta=alt.Theta("a:Q", scale=None), theta2="b:Q",
    opacity=alt.Opacity("o:Q", scale=None, legend=None),
    x=alt.value(695.7), y=alt.value(180.7))

loading = alt.Chart(pd.DataFrame({"t": LOADING_TEXT})).mark_text(
    font=FONT, fontSize=16, fontWeight="bold", color="#f4f4f4",
    align="center", baseline="alphabetic").encode(
    text="t:N", x=alt.value(695.5), y=alt.value(231))

chart = alt.layer(grid, bars, cover, thumb, arrow_up, arrow_dn, spinner, loading).properties(
    width=W, height=H,
    autosize=alt.AutoSizeParams(type="none"),
    padding={"left": 33, "top": 12, "right": 30, "bottom": 30},
    background=BG,
).configure_view(stroke=None)

chart.save("out.html", embed_options={"renderer": "svg", "actions": False})
